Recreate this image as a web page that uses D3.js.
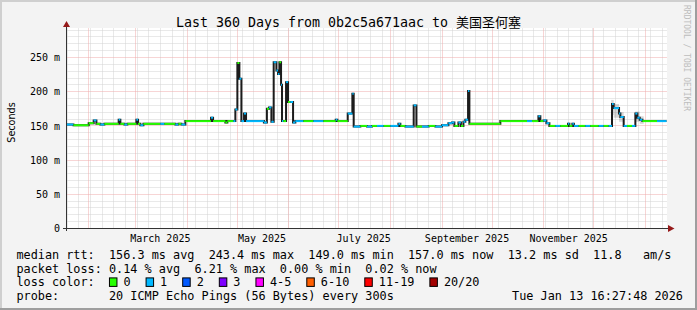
<!DOCTYPE html>
<html><head><meta charset="utf-8">
<script src="https://cdn.jsdelivr.net/npm/d3@7"></script>
<style>
html,body{margin:0;padding:0;background:#f3f3f3;}
svg{display:block;}
text{font-family:"DejaVu Sans Mono",monospace;}
</style></head><body>
<svg id="c" width="697" height="310"></svg>
<script>
// ---------- data ----------
const titleText = "Last 360 Days from 0b2c5a671aac to ";
const titleCJK = "美国圣何塞";
const timeStart = "2025-01-18T16:27:48Z";
const timeEnd = "2026-01-13T16:27:48Z";
const yMax = 0.2924; // seconds
const yTickValues = [0, 0.05, 0.10, 0.15, 0.20, 0.25];
const yTickLabels = ["0", "50 m", "100 m", "150 m", "200 m", "250 m"];
const xLabelMonths = ["2025-03-01", "2025-05-01", "2025-07-01", "2025-09-01", "2025-11-01"];
const xLabelTexts = ["March 2025", "May 2025", "July 2025", "September 2025", "November 2025"];

// median rtt steps: start time, median (ms), loss class index
const segStart = [
"2025-01-18T16:30","2025-01-22T20:00","2025-02-01T00:00","2025-02-04T00:00","2025-02-05T15:00",
"2025-02-08T00:00","2025-02-10T10:00","2025-02-19T00:00","2025-02-20T00:00","2025-02-22T10:00",
"2025-02-24T05:00","2025-03-01T15:00","2025-03-02T15:00","2025-03-04T00:00","2025-03-05T20:00",
"2025-03-16T00:00","2025-03-18T10:00","2025-03-25T00:00","2025-03-26T20:00","2025-03-28T15:00",
"2025-03-31T00:00","2025-04-15T10:00","2025-04-16T15:00","2025-04-24T00:00","2025-04-25T05:00",
"2025-04-28T20:00","2025-04-30T00:00","2025-05-01T05:00","2025-05-02T10:00","2025-05-03T15:00",
"2025-05-05T05:00","2025-05-06T10:00","2025-05-17T03:00","2025-05-18T22:00","2025-05-20T05:00",
"2025-05-21T15:00","2025-05-23T00:00","2025-05-24T15:00","2025-05-25T15:00","2025-05-26T10:00",
"2025-05-27T10:00","2025-05-28T00:00","2025-05-28T20:00","2025-05-30T10:00","2025-05-31T15:00",
"2025-06-02T00:00","2025-06-03T15:00","2025-06-05T00:00","2025-06-09T20:00","2025-06-15T20:00",
"2025-06-21T20:00","2025-06-29T05:00","2025-06-30T05:00","2025-07-06T10:00","2025-07-09T05:00",
"2025-07-10T00:00","2025-07-14T00:00","2025-07-18T00:00","2025-07-21T00:00","2025-07-24T00:00",
"2025-07-28T00:00","2025-08-01T00:00","2025-08-05T20:00","2025-08-07T00:00","2025-08-10T00:00",
"2025-08-15T00:00","2025-08-16T15:00","2025-08-20T00:00","2025-08-24T00:00","2025-08-28T00:00",
"2025-09-01T00:00","2025-09-04T20:00","2025-09-07T00:00","2025-09-08T10:00","2025-09-10T20:00",
"2025-09-12T08:00","2025-09-13T20:00","2025-09-15T00:00","2025-09-16T15:00","2025-09-17T10:00",
"2025-10-06T00:00","2025-10-22T00:00","2025-10-25T00:00","2025-10-28T20:00","2025-10-30T00:00",
"2025-10-31T20:00","2025-11-02T15:00","2025-11-04T10:00","2025-11-08T00:00","2025-11-11T00:00",
"2025-11-15T15:00","2025-11-16T10:00","2025-11-18T05:00","2025-11-19T03:00","2025-11-22T00:00",
"2025-11-26T00:00","2025-11-29T00:00","2025-12-04T00:00","2025-12-07T00:00","2025-12-10T00:00",
"2025-12-12T00:00","2025-12-13T00:00","2025-12-16T05:00","2025-12-17T00:00","2025-12-19T00:00",
"2025-12-21T00:00","2025-12-24T00:00","2025-12-26T00:00","2025-12-27T05:00","2025-12-28T15:00",
"2025-12-30T05:00","2026-01-08T00:00"];
const segMedian = [
152,151,154,158,153, 152,153,159,153,152, 153,159,153,151,153, 153,153,152,153,152,
157,162,157,155,157, 157,174,242,219,157, 168,157,155,175,177, 156,243,231,226,243,
210,157,157,214,185, 185,155,157,157,157, 157,159,157,168,197, 149,150,149,150,150,
150,150,153,150,149, 180,149,149,150,149, 151,154,155,150,155, 150,156,159,201,153,
157,157,157,164,157, 158,154,150,150,150, 153,150,153,150,150, 150,150,150,150,150,
182,176,168,163,150, 150,150,168,162,159, 157,157];
const segLoss = [
1,0,0,1,0, 1,0,1,0,1, 0,1,0,1,0, 1,0,1,0,1,
0,1,0,0,0, 1,1,0,1,1, 1,1,1,0,1, 1,1,1,1,0,
1,1,0,1,0, 1,1,1,0,1, 0,1,0,1,1, 1,0,1,0,1,
0,1,1,0,1, 1,0,1,0,1, 1,1,1,0,1, 0,1,1,1,0,
0,1,0,1,0, 1,1,0,1,0, 1,0,1,1,0, 1,0,1,0,1,
1,1,1,1,1, 0,1,1,1,1, 0,1];
const dataEnd = "2026-01-13T16:00";

// smoke (ping spread) around the December bumps: start, end, low (ms), high (ms)
const smokeStart = ["2025-12-11T12:00","2025-12-13T00:00","2025-12-16T05:00","2025-12-25T20:00","2025-12-28T15:00"];
const smokeEnd   = ["2025-12-13T00:00","2025-12-16T05:00","2025-12-19T00:00","2025-12-28T15:00","2025-12-31T00:00"];
const smokeLow   = [166, 162, 156, 156, 153];
const smokeHigh  = [188, 182, 170, 171, 164];

const lossLabels = ["0","1","2","3","4-5","6-10","11-19","20/20"];
const lossColors = ["#26ff00","#00b8ff","#0059ff","#7e00ff","#ff00ff","#ff5e00","#ff0000","#a10000"];

const legendRtt = [["median rtt:",0],["156.3 ms avg",13],["243.4 ms max",27],["149.0 ms min",41],["157.0 ms now",55],["13.2 ms sd",69],["11.8",81],["am/s",88]];
const legendLoss = "packet loss: 0.14 % avg  6.21 % max  0.00 % min  0.02 % now";
const probeLabel = "probe:";
const probeText = "20 ICMP Echo Pings (56 Bytes) every 300s";
const stampText = "Tue Jan 13 16:27:48 2026";
const yAxisTitle = "Seconds";
const watermark = "RRDTOOL / TOBI OETIKER";

// ---------- drawing ----------
const W = 697, H = 310;
const L = 66.5, R = 666.5, T = 28.5, B = 228.5;
const svg = d3.select("#c");
const x = d3.scaleUtc().domain([new Date(timeStart), new Date(timeEnd)]).range([L, R]);
const y = d3.scaleLinear().domain([0, yMax]).range([B, T]);
const pd = s => new Date(s.length > 16 ? s : s + (s.length === 10 ? "T00:00:00Z" : ":00Z"));

// background + 3D frame
svg.append("rect").attr("x",0).attr("y",0).attr("width",W).attr("height",H).attr("fill","#f3f3f3");
svg.append("rect").attr("x",0).attr("y",0).attr("width",W).attr("height",2).attr("fill","#cfcfcf");
svg.append("rect").attr("x",0).attr("y",0).attr("width",2).attr("height",H).attr("fill","#cfcfcf");
svg.append("rect").attr("x",0).attr("y",H-2).attr("width",W).attr("height",2).attr("fill","#9e9e9e");
svg.append("rect").attr("x",W-2).attr("y",0).attr("width",2).attr("height",H).attr("fill","#9e9e9e");

// canvas
svg.append("rect").attr("x",L+0.5).attr("y",T-0.5).attr("width",R-L).attr("height",B-T+0.5).attr("fill","#ffffff");

const grid = svg.append("g");
const minorCol = "#d2d2d2", majorCol = "#eeaaaa";
// horizontal minor grid (every 10 m) and major (every 50 m)
const hMinor = d3.range(0.01, yMax, 0.01).filter(v => Math.round(v*1000) % 50 !== 0);
grid.selectAll(".hm").data(hMinor).enter().append("line")
  .attr("x1",L+1).attr("x2",R).attr("y1",d=>Math.round(y(d)-0.5)+0.5).attr("y2",d=>Math.round(y(d)-0.5)+0.5)
  .attr("stroke",minorCol).attr("stroke-dasharray","1,1");
// vertical minor grid (weekly)
const weeks = d3.utcSunday.range(new Date(timeStart), new Date(timeEnd));
grid.selectAll(".vm").data(weeks).enter().append("line")
  .attr("y1",T).attr("y2",B).attr("x1",d=>Math.round(x(d)-0.5)+0.5).attr("x2",d=>Math.round(x(d)-0.5)+0.5)
  .attr("stroke",minorCol).attr("stroke-dasharray","1,1");
// major
const hMajor = yTickValues.filter(v => v > 0);
grid.selectAll(".hM").data(hMajor).enter().append("line")
  .attr("x1",L+1).attr("x2",R).attr("y1",d=>Math.round(y(d)-0.5)+0.5).attr("y2",d=>Math.round(y(d)-0.5)+0.5)
  .attr("stroke",majorCol).attr("stroke-dasharray","1,1");
const months = d3.utcMonth.range(new Date(timeStart), new Date(timeEnd));
grid.selectAll(".vM").data(months).enter().append("line")
  .attr("y1",T).attr("y2",B).attr("x1",d=>Math.round(x(d)-0.5)+0.5).attr("x2",d=>Math.round(x(d)-0.5)+0.5)
  .attr("stroke",majorCol).attr("stroke-dasharray","1,1");

// smoke
const smoke = smokeStart.map((s,i)=>({t0:pd(s),t1:pd(smokeEnd[i]),lo:smokeLow[i]/1000,hi:smokeHigh[i]/1000}));
svg.append("g").selectAll("rect").data(smoke).enter().append("rect")
  .attr("x",d=>x(d.t0)).attr("width",d=>x(d.t1)-x(d.t0))
  .attr("y",d=>y(d.hi)).attr("height",d=>y(d.lo)-y(d.hi))
  .attr("fill","#000").attr("opacity",0.16);

// median steps
const segs = segStart.map((s,i)=>({t0:pd(s), t1:pd(i<segStart.length-1?segStart[i+1]:dataEnd), v:segMedian[i]/1000, loss:segLoss[i]}));
const pts = segs.map(s=>[x(s.t0), y(s.v)]);
pts.push([x(pd(dataEnd)), y(segs[segs.length-1].v)]);
svg.append("path").attr("d", d3.line().curve(d3.curveStepAfter)(pts))
  .attr("fill","none").attr("stroke","#1c1c1c").attr("stroke-width",2);
svg.append("g").selectAll("line").data(segs).enter().append("line")
  .attr("x1",d=>x(d.t0)).attr("x2",d=>x(d.t1)).attr("y1",d=>y(d.v)).attr("y2",d=>y(d.v))
  .attr("stroke",d=>lossColors[d.loss]).attr("stroke-width",2);

// axes
const axisCol = "#333333", arrowCol = "#961a1a";
svg.append("line").attr("x1",63).attr("x2",669).attr("y1",B).attr("y2",B).attr("stroke",axisCol);
svg.append("line").attr("x1",L).attr("x2",L).attr("y1",231).attr("y2",25).attr("stroke",axisCol);
svg.append("polygon").attr("points",`${L-3.5},27 ${L+3.5},27 ${L},21`).attr("fill",arrowCol);
svg.append("polygon").attr("points",`668,${B-3.5} 668,${B+3.5} 674.5,${B}`).attr("fill",arrowCol);

// y labels
svg.append("g").selectAll("text").data(yTickValues).enter().append("text")
  .attr("x",60).attr("y",d=>y(d)+3.6).attr("text-anchor","end")
  .attr("font-size","10px").attr("fill","#000").text((d,i)=>yTickLabels[i]);
// x labels (centered mid-month)
svg.append("g").selectAll("text").data(xLabelMonths).enter().append("text")
  .attr("x",d=>x(d3.utcDay.offset(pd(d),15))).attr("y",241.5).attr("text-anchor","middle")
  .attr("font-size","10px").attr("fill","#000").text((d,i)=>xLabelTexts[i]);

// y axis title
svg.append("text").attr("transform","translate(14.5,122.5) rotate(-90)").attr("text-anchor","middle")
  .style("font-family","'DejaVu Sans',sans-serif").attr("font-size","9.6px").attr("fill","#000").text(yAxisTitle);

// title
const tt = svg.append("text").attr("x",348.5).attr("y",27).attr("text-anchor","middle").attr("fill","#000");
tt.append("tspan").attr("font-size","13.3px").text(titleText);
tt.append("tspan").attr("font-size","13px").style("font-family","'Noto Sans CJK SC',sans-serif").text(titleCJK);

// watermark
svg.append("text").attr("transform","translate(683.5,5) rotate(90)").attr("font-size","8px")
  .attr("fill","#bdbdbd").text(watermark);

// legend
const cw = 7.12, lx = 16.4, fs = "11.83px";
const rowY = [258.8, 272.6, 286.4, 300.2];
svg.append("g").selectAll("text").data(legendRtt).enter().append("text")
  .attr("x",d=>lx+d[1]*cw).attr("y",rowY[0]).attr("font-size",fs).attr("fill","#000").text(d=>d[0]);
svg.append("text").attr("x",lx).attr("y",rowY[1]).attr("font-size",fs).attr("fill","#000")
  .style("white-space","pre").text(legendLoss);
svg.append("text").attr("x",lx).attr("y",rowY[2]).attr("font-size",fs).attr("fill","#000").text("loss color:");
let bx = lx + 13*cw;
lossLabels.forEach((lab,i)=>{
  svg.append("rect").attr("x",bx+0.5).attr("y",rowY[2]-8.5).attr("width",7.5).attr("height",8.5)
    .attr("fill",lossColors[i]).attr("stroke","#000").attr("stroke-width",1);
  svg.append("text").attr("x",bx+14.5).attr("y",rowY[2]).attr("font-size",fs).attr("fill","#000").text(lab);
  bx += 29.5 + lab.length*cw;
});
svg.append("text").attr("x",lx).attr("y",rowY[3]).attr("font-size",fs).attr("fill","#000").text(probeLabel);
svg.append("text").attr("x",lx+13*cw).attr("y",rowY[3]).attr("font-size",fs).attr("fill","#000").text(probeText);
svg.append("text").attr("x",683).attr("y",rowY[3]).attr("text-anchor","end").attr("font-size",fs).attr("fill","#000").text(stampText);
</script>
</body></html>
